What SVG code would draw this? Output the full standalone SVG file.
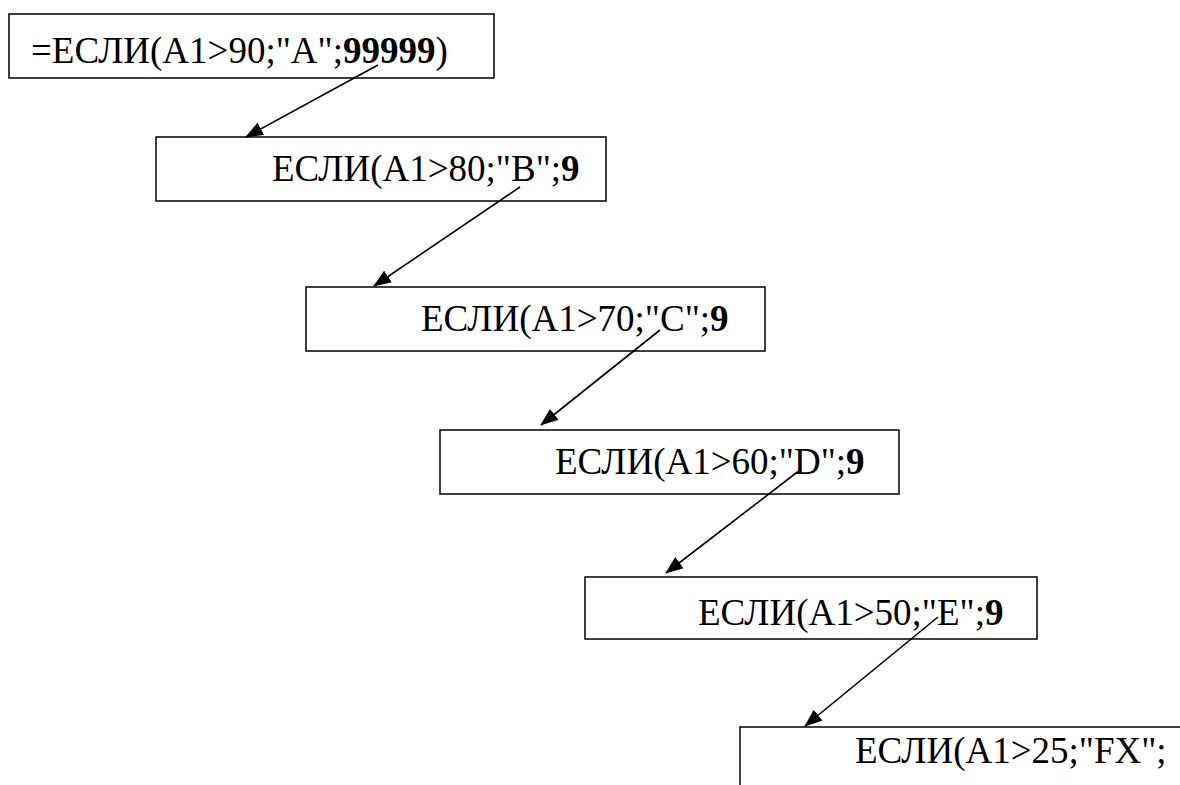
<svg xmlns="http://www.w3.org/2000/svg" width="1180" height="785" viewBox="0 0 1180 785">
  <style>
    .box { fill: #fff; stroke: #000; stroke-width: 1.5; }
    .lbl { font-family: "Liberation Serif", "Times New Roman", serif; font-size: 37px; fill: #000; }
    .b { font-weight: bold; }
    .edge { stroke: #000; stroke-width: 1.6; fill: none; marker-end: url(#arrow); }
  </style>
  <defs>
    <marker id="arrow" viewBox="0 0 18 14" refX="17" refY="7" markerWidth="18" markerHeight="14" markerUnits="userSpaceOnUse" orient="auto">
      <path d="M0,0 L18,7 L0,14 Z" fill="#000"/>
    </marker>
  </defs>
  <rect width="1180" height="785" fill="#fff"/>

  <g id="node-a">
    <rect class="box" x="9" y="14" width="485" height="64"/>
    <text class="lbl" x="31" y="63">=ЕСЛИ(А1&gt;90;"А";<tspan class="b">99999</tspan>)</text>
  </g>
  <g id="node-b">
    <rect class="box" x="156" y="137" width="450" height="64"/>
    <text class="lbl" x="272" y="181">ЕСЛИ(А1&gt;80;"В";<tspan class="b">9</tspan></text>
  </g>
  <g id="node-c">
    <rect class="box" x="306" y="287" width="459" height="64"/>
    <text class="lbl" x="421" y="331">ЕСЛИ(А1&gt;70;"С";<tspan class="b">9</tspan></text>
  </g>
  <g id="node-d">
    <rect class="box" x="440" y="430" width="459" height="64"/>
    <text class="lbl" x="555" y="474">ЕСЛИ(А1&gt;60;"D";<tspan class="b">9</tspan></text>
  </g>
  <g id="node-e">
    <rect class="box" x="585" y="577" width="452" height="62"/>
    <text class="lbl" x="698" y="625">ЕСЛИ(А1&gt;50;"E";<tspan class="b">9</tspan></text>
  </g>
  <g id="node-f">
    <rect class="box" x="740" y="727" width="460" height="80"/>
    <text class="lbl" x="855" y="763">ЕСЛИ(А1&gt;25;"FX";</text>
  </g>

  <g id="connectors">
    <line class="edge" x1="378" y1="65" x2="246" y2="137"/>
    <line class="edge" x1="520" y1="187" x2="374" y2="286"/>
    <line class="edge" x1="660" y1="330" x2="541" y2="425"/>
    <line class="edge" x1="800" y1="470" x2="666" y2="573"/>
    <line class="edge" x1="938" y1="617" x2="805" y2="726"/>
  </g>
</svg>
